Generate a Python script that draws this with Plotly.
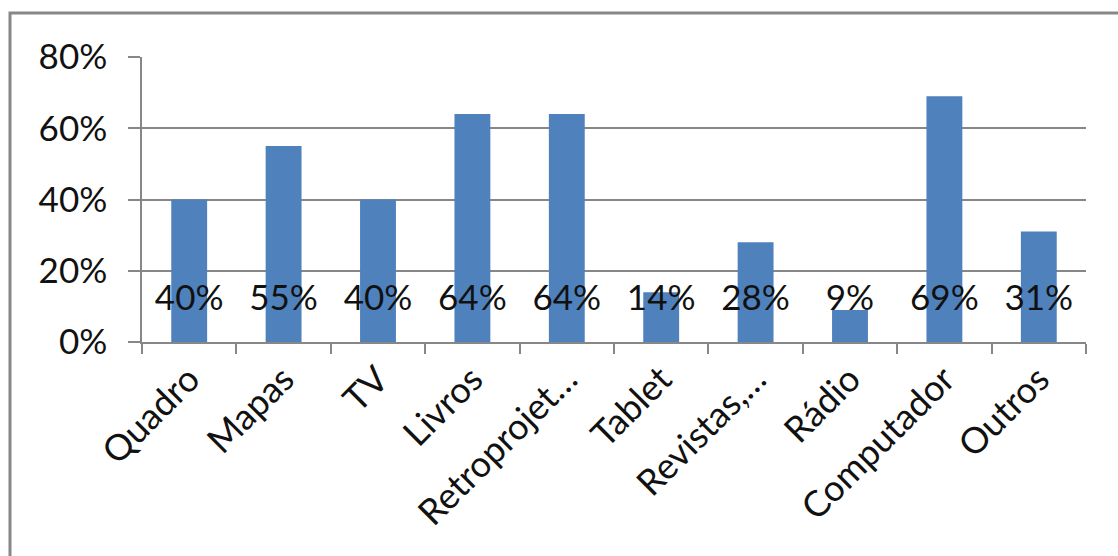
import plotly.graph_objects as go

categories = ["Quadro", "Mapas", "TV", "Livros", "Retroprojet…", "Tablet",
              "Revistas,…", "Rádio", "Computador", "Outros"]
shares = [0.40, 0.55, 0.40, 0.64, 0.64, 0.14, 0.28, 0.09, 0.69, 0.31]
label_level = 0.115  # data labels sit near the base of each bar

W, H = 1118, 556
ML, MR, MT, MB = 142, 32, 57, 214
PW, PH = W - ML - MR, H - MT - MB

FONT = "Lato, Carlito, 'Liberation Sans', sans-serif"
GRID = "#878787"
BAR = "#4F81BD"
INK = "#111111"

fig = go.Figure()
fig.add_trace(go.Bar(
    x=categories, y=shares, marker=dict(color=BAR, line=dict(width=0)),
    width=0.38, hoverinfo="skip", showlegend=False,
))
fig.add_trace(go.Scatter(
    x=categories, y=[label_level] * len(categories), mode="text",
    text=[f"{v:.0%}" for v in shares], textposition="middle center",
    textfont=dict(family=FONT, size=35, color=INK),
    hoverinfo="skip", showlegend=False, cliponaxis=False,
))


def px_x(p):
    return (p - ML) / PW


def px_y(p):
    return (H - MB - p) / PH


fig.add_shape(type="rect", xref="paper", yref="paper",
              x0=px_x(10), x1=px_x(1140), y0=px_y(580), y1=px_y(13),
              line=dict(color=GRID, width=3), fillcolor="rgba(0,0,0,0)", layer="above")

fig.update_layout(
    width=W, height=H, autosize=False,
    margin=dict(l=ML, r=MR, t=MT, b=MB),
    paper_bgcolor="white", plot_bgcolor="white",
    font=dict(family=FONT, size=35, color=INK),
    xaxis=dict(
        type="category", tickangle=-45, tickson="boundaries",
        ticks="outside", ticklen=10, tickwidth=1.5, tickcolor=GRID,
        showline=True, linecolor=GRID, linewidth=1.5, showgrid=False,
        tickfont=dict(family=FONT, size=36, color=INK),
        range=[-0.5, len(categories) - 0.5],
    ),
    yaxis=dict(
        range=[0, 0.8], dtick=0.2, tickformat=".0%",
        ticks="outside", ticklen=12, tickwidth=1.5, tickcolor=GRID,
        ticklabelstandoff=14,
        showline=True, linecolor=GRID, linewidth=1.5,
        showgrid=True, gridcolor=GRID, gridwidth=1.5, zeroline=False,
        tickfont=dict(family=FONT, size=35, color=INK),
    ),
)

fig.write_html("out.html")
